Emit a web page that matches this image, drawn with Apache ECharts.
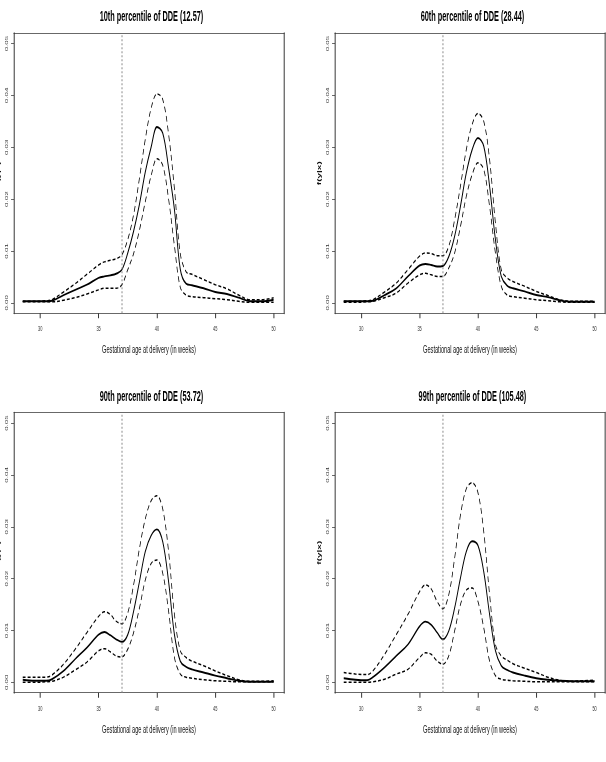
<!DOCTYPE html>
<html>
<head>
<meta charset="utf-8">
<script src="https://cdn.jsdelivr.net/npm/echarts@6/dist/echarts.min.js"></script>
<style>
html,body{margin:0;padding:0;overflow:hidden;background:#fff;}
#wrap{width:606px;height:762px;overflow:hidden;position:relative;filter:grayscale(1);}
#chart{height:762px;transform-origin:0 0;}
</style>
</head>
<body>
<div id="wrap"><div id="chart"></div></div>
<script>
// ---- data ----
const weeks = [28.5, 29.5, 30.5, 31, 32, 33, 34, 35, 35.5, 36, 36.5, 37, 37.5, 38, 38.5, 39, 39.5, 40, 40.5, 41, 41.5, 42, 42.5, 43, 44, 45, 46, 47, 48, 49, 50];

const p10Fit   = [0.0003, 0.0003, 0.0003, 0.0004, 0.0015, 0.0025, 0.0035, 0.0048, 0.0051, 0.0053, 0.0056, 0.0064, 0.0096, 0.0138, 0.0190, 0.0252, 0.0300, 0.0339, 0.0327, 0.0260, 0.0180, 0.0065, 0.0037, 0.0034, 0.0028, 0.0021, 0.0017, 0.0010, 0.0003, 0.0003, 0.0006];
const p10Upper = [0.0003, 0.0003, 0.0004, 0.0006, 0.0021, 0.0037, 0.0055, 0.0073, 0.0079, 0.0082, 0.0085, 0.0093, 0.0122, 0.0170, 0.0240, 0.0315, 0.0375, 0.0403, 0.0392, 0.0325, 0.0220, 0.0095, 0.0060, 0.0055, 0.0045, 0.0035, 0.0027, 0.0015, 0.0006, 0.0006, 0.0010];
const p10Lower = [0.0002, 0.0002, 0.0002, 0.0002, 0.0005, 0.0010, 0.0017, 0.0025, 0.0028, 0.0028, 0.0028, 0.0035, 0.0064, 0.0095, 0.0140, 0.0195, 0.0245, 0.0278, 0.0265, 0.0200, 0.0110, 0.0030, 0.0015, 0.0012, 0.0010, 0.0008, 0.0006, 0.0003, 0.0001, 0.0001, 0.0001];

const p60Fit   = [0.0003, 0.0003, 0.0003, 0.0004, 0.0015, 0.0028, 0.0051, 0.0072, 0.0075, 0.0073, 0.0070, 0.0071, 0.0089, 0.0128, 0.0186, 0.0250, 0.0295, 0.0318, 0.0302, 0.0225, 0.0122, 0.0051, 0.0033, 0.0028, 0.0022, 0.0015, 0.0011, 0.0005, 0.0002, 0.0002, 0.0002];
const p60Upper = [0.0003, 0.0003, 0.0004, 0.0006, 0.0021, 0.0038, 0.0064, 0.0090, 0.0096, 0.0095, 0.0091, 0.0091, 0.0109, 0.0160, 0.0225, 0.0295, 0.0344, 0.0365, 0.0350, 0.0276, 0.0154, 0.0064, 0.0048, 0.0041, 0.0032, 0.0022, 0.0014, 0.0006, 0.0003, 0.0003, 0.0003];
const p60Lower = [0.0001, 0.0001, 0.0002, 0.0003, 0.0010, 0.0019, 0.0038, 0.0054, 0.0057, 0.0054, 0.0051, 0.0051, 0.0067, 0.0096, 0.0147, 0.0205, 0.0247, 0.0270, 0.0257, 0.0186, 0.0096, 0.0032, 0.0015, 0.0012, 0.0009, 0.0006, 0.0004, 0.0002, 0.0001, 0.0001, 0.0001];

const p90Fit   = [0.0005, 0.0003, 0.0003, 0.0006, 0.0022, 0.0045, 0.0067, 0.0092, 0.0097, 0.0091, 0.0083, 0.0078, 0.0092, 0.0137, 0.0194, 0.0252, 0.0283, 0.0295, 0.0271, 0.0194, 0.0092, 0.0041, 0.0030, 0.0025, 0.0019, 0.0013, 0.0008, 0.0003, 0.0001, 0.0001, 0.0001];
const p90Upper = [0.0010, 0.0010, 0.0010, 0.0014, 0.0035, 0.0064, 0.0096, 0.0127, 0.0136, 0.0131, 0.0118, 0.0113, 0.0134, 0.0188, 0.0258, 0.0315, 0.0350, 0.0360, 0.0334, 0.0252, 0.0131, 0.0061, 0.0048, 0.0041, 0.0032, 0.0022, 0.0013, 0.0005, 0.0002, 0.0002, 0.0003];
const p90Lower = [0.0000, 0.0000, 0.0001, 0.0002, 0.0010, 0.0024, 0.0039, 0.0061, 0.0065, 0.0059, 0.0051, 0.0049, 0.0064, 0.0096, 0.0143, 0.0197, 0.0229, 0.0236, 0.0210, 0.0137, 0.0048, 0.0016, 0.0010, 0.0008, 0.0005, 0.0003, 0.0002, 0.0001, 0.0001, 0.0001, 0.0001];

const p99Fit   = [0.0008, 0.0005, 0.0004, 0.0010, 0.0029, 0.0051, 0.0073, 0.0108, 0.0117, 0.0111, 0.0096, 0.0083, 0.0099, 0.0143, 0.0201, 0.0252, 0.0272, 0.0264, 0.0213, 0.0131, 0.0061, 0.0032, 0.0024, 0.0019, 0.0013, 0.0008, 0.0005, 0.0003, 0.0002, 0.0002, 0.0002];
const p99Upper = [0.0019, 0.0016, 0.0015, 0.0022, 0.0054, 0.0092, 0.0131, 0.0175, 0.0188, 0.0180, 0.0156, 0.0142, 0.0169, 0.0239, 0.0322, 0.0373, 0.0385, 0.0366, 0.0290, 0.0169, 0.0073, 0.0051, 0.0043, 0.0036, 0.0027, 0.0019, 0.0010, 0.0004, 0.0002, 0.0003, 0.0004];
const p99Lower = [0.0000, 0.0000, 0.0000, 0.0001, 0.0006, 0.0016, 0.0025, 0.0048, 0.0057, 0.0054, 0.0041, 0.0035, 0.0051, 0.0099, 0.0150, 0.0178, 0.0182, 0.0156, 0.0105, 0.0041, 0.0013, 0.0006, 0.0004, 0.0003, 0.0002, 0.0001, 0.0001, 0.0001, 0.0001, 0.0001, 0.0001];

const panelTitles = ['10th percentile of DDE (12.57)', '60th percentile of DDE (28.44)', '90th percentile of DDE (53.72)', '99th percentile of DDE (105.48)'];
const xTickValues = [30, 35, 40, 45, 50];
const yTickValues = [0, 0.01, 0.02, 0.03, 0.04, 0.05];
const cutoffWeek = 37;
const xAxisTitle = 'Gestational age at delivery (in weeks)';
const yAxisTitle = 'f(y|x)';

// ---- layout ----
const S = 0.49;               // horizontal squeeze of the original figure
const W = 606 / S;
const sx = v => v / S;
document.getElementById('chart').style.width = W + 'px';
document.getElementById('chart').style.transform = 'scaleX(' + S + ')';

const panelData = [
  [p10Fit, p10Upper, p10Lower],
  [p60Fit, p60Upper, p60Lower],
  [p90Fit, p90Upper, p90Lower],
  [p99Fit, p99Upper, p99Lower]
];
const boxes = [[14, 33.2], [335, 33.2], [14, 412.7], [335, 412.7]];
const titleTops = [3, 3, 383, 383];
const BOXW = 270, BOXH = 280;
const XMIN = 27.75, XMAX = 50.89, YMIN = -0.002, YMAX = 0.052;
const FONT = 'Liberation Sans, Arial, Helvetica, sans-serif';

const zip = vals => weeks.map((w, i) => [w, vals[i]]);

const option = {
  animation: false,
  backgroundColor: '#fff',
  title: [], grid: [], xAxis: [], yAxis: [], series: []
};

boxes.forEach((b, i) => {
  option.title.push({
    text: panelTitles[i],
    left: sx(b[0] + BOXW / 2), top: titleTops[i], textAlign: 'center',
    textStyle: { fontFamily: FONT, fontSize: 15, fontWeight: 'bold', color: '#000' }
  });
  option.grid.push({
    left: sx(b[0]), top: b[1], width: sx(BOXW), height: BOXH,
    containLabel: false, outerBoundsMode: 'none', show: false
  });
  // bottom x axis
  option.xAxis.push({
    type: 'value', gridIndex: i, position: 'bottom', min: XMIN, max: XMAX,
    axisLine: { show: true, onZero: false, lineStyle: { color: '#333', width: 1 } },
    axisTick: { show: true, customValues: xTickValues, length: 5, lineStyle: { color: '#333', width: 2 } },
    axisLabel: { show: true, customValues: xTickValues, fontSize: 8, margin: 11, color: '#333', fontFamily: FONT },
    splitLine: { show: false },
    name: xAxisTitle, nameLocation: 'middle', nameGap: 30,
    nameTextStyle: { fontFamily: FONT, fontSize: 11.5, color: '#111' }
  });
  // top x axis (box line)
  option.xAxis.push({
    type: 'value', gridIndex: i, position: 'top', min: XMIN, max: XMAX,
    axisLine: { show: true, onZero: false, lineStyle: { color: '#333', width: 1 } },
    axisTick: { show: false }, axisLabel: { show: false }, splitLine: { show: false }
  });
  // left y axis
  option.yAxis.push({
    type: 'value', gridIndex: i, position: 'left', min: YMIN, max: YMAX,
    axisLine: { show: true, onZero: false, lineStyle: { color: '#333', width: 2 } },
    axisTick: { show: true, customValues: yTickValues, length: 6, lineStyle: { color: '#333', width: 1 } },
    axisLabel: { show: true, customValues: yTickValues, rotate: 90, fontSize: 8, margin: 11, color: '#333', fontFamily: FONT,
                 formatter: v => v.toFixed(2) },
    splitLine: { show: false },
    name: yAxisTitle, nameLocation: 'middle', nameGap: 27,
    nameTextStyle: { fontFamily: FONT, fontSize: 10, fontWeight: 'bold', color: '#111' }
  });
  // right y axis (box line)
  option.yAxis.push({
    type: 'value', gridIndex: i, position: 'right', min: YMIN, max: YMAX,
    axisLine: { show: true, onZero: false, lineStyle: { color: '#333', width: 2 } },
    axisTick: { show: false }, axisLabel: { show: false }, splitLine: { show: false }
  });

  const [fit, up, lo] = panelData[i];
  const xi = i * 2, yi = i * 2;
  option.series.push({
    type: 'line', xAxisIndex: xi, yAxisIndex: yi, data: zip(fit), smooth: 0.35,
    showSymbol: false, symbol: 'none', lineStyle: { color: '#000', width: 1.9, type: 'solid' },
    z: 3,
    markLine: {
      silent: true, symbol: ['none', 'none'], label: { show: false },
      lineStyle: { color: '#8a8a8a', width: 2, type: [2, 2] },
      data: [{ xAxis: cutoffWeek }]
    }
  });
  option.series.push({
    type: 'line', xAxisIndex: xi, yAxisIndex: yi, data: zip(up), smooth: 0.35,
    showSymbol: false, symbol: 'none', lineStyle: { color: '#000', width: 1.5, type: [6, 4] }
  });
  option.series.push({
    type: 'line', xAxisIndex: xi, yAxisIndex: yi, data: zip(lo), smooth: 0.35,
    showSymbol: false, symbol: 'none', lineStyle: { color: '#000', width: 1.5, type: [6, 4] }
  });
});

const chart = echarts.init(document.getElementById('chart'), null, { renderer: 'svg' });
chart.setOption(option);
</script>
</body>
</html>
